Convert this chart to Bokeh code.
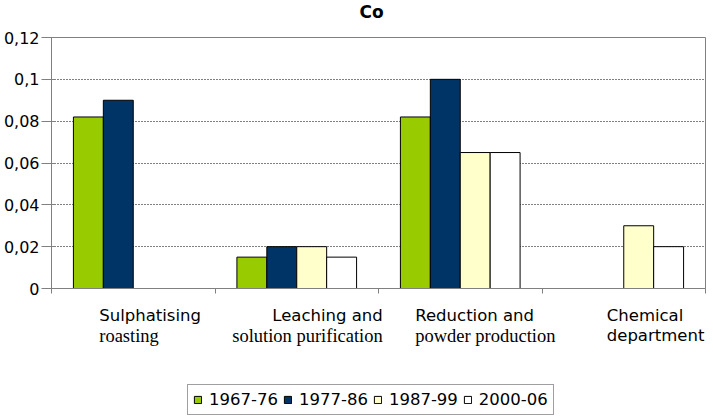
from bokeh.plotting import figure
from bokeh.layouts import column
from bokeh.models import Range1d, FixedTicker, ColumnDataSource, Legend, LegendItem
from bokeh.core.properties import value
from bokeh.embed import file_html
from bokeh.resources import INLINE

# ---- data ----
chart_title = "Co"
category_line1 = ["Sulphatising", "Leaching and", "Reduction and", "Chemical"]
category_line2 = ["roasting", "solution purification", "powder production", "department"]
series_names = ["1967-76", "1977-86", "1987-99", "2000-06"]
s_1967_76 = [0.082, 0.015, 0.082, None]
s_1977_86 = [0.090, 0.020, 0.100, None]
s_1987_99 = [None, 0.020, 0.065, 0.030]
s_2000_06 = [None, 0.015, 0.065, 0.020]
y_ticks = [0, 0.02, 0.04, 0.06, 0.08, 0.1, 0.12]
y_tick_labels = ["0", "0,02", "0,04", "0,06", "0,08", "0,1", "0,12"]

# ---- styles ----
colors = ["#99CC00", "#003366", "#FFFFCC", "#FFFFFF"]
SANS = "DejaVu Sans"
SERIF = "Liberation Serif"
# (align1, xoff1, align2, xoff2, font2, size2) offsets in px from category centre
label_layout = [
    ("left", -34, "left", -34, SERIF, "18.5px"),
    ("right", 86, "right", 86, SERIF, "18.5px"),
    ("left", -45, "left", -45, SERIF, "18.5px"),
    ("left", -17, "left", -17, SANS, "16.5px"),
]
bar_w = 0.183
n_cat = len(category_line1)
xr = Range1d(0, n_cat)


def strip(height, ylo=0, yhi=1):
    f = figure(width=713, height=height, output_backend="svg", toolbar_location=None,
               title=None, x_range=xr, y_range=Range1d(ylo, yhi),
               x_axis_location=None, y_axis_location=None,
               min_border_left=49, min_border_right=8, min_border_top=0,
               min_border_bottom=0, background_fill_color="white",
               border_fill_color="white", outline_line_color=None)
    f.grid.visible = False
    return f


# ---- title strip ----
t = strip(29)
t.text(x=[n_cat / 2], y=[1], text=[chart_title], x_offset=-19, y_offset=11,
       text_align="left", text_baseline="alphabetic",
       text_font=value(SANS), text_font_size="17px", text_font_style="bold",
       text_color="black")

# ---- main chart ----
p = figure(width=713, height=275, output_backend="svg", toolbar_location=None,
           title=None, x_range=xr, y_range=Range1d(0, 0.12),
           min_border_left=49, min_border_right=8, min_border_top=8,
           min_border_bottom=16, background_fill_color="white",
           border_fill_color="white")
p.outline_line_color = "#808080"

# y axis
p.yaxis.ticker = FixedTicker(ticks=y_ticks)
p.yaxis.major_label_overrides = {tk: lb for tk, lb in zip(y_ticks, y_tick_labels)}
p.yaxis.minor_tick_line_color = None
p.yaxis.axis_line_color = "#808080"
p.yaxis.major_tick_line_color = "#808080"
p.yaxis.major_tick_out = 10
p.yaxis.major_tick_in = 4
p.yaxis.major_label_standoff = 2
p.yaxis.major_label_text_font = SANS
p.yaxis.major_label_text_font_size = "16px"
p.yaxis.major_label_text_color = "black"

# x axis (category boundary ticks only, labels drawn below)
x_bounds = list(range(n_cat + 1))
p.xaxis.ticker = FixedTicker(ticks=x_bounds)
p.xaxis.major_label_overrides = {b: "" for b in x_bounds}
p.xaxis.major_label_standoff = 0
p.xaxis.minor_tick_line_color = None
p.xaxis.axis_line_color = "#808080"
p.xaxis.major_tick_line_color = "#808080"
p.xaxis.major_tick_out = 5
p.xaxis.major_tick_in = 0

# grid
p.xgrid.visible = False
p.ygrid.ticker = FixedTicker(ticks=y_ticks[1:-1])
p.ygrid.grid_line_color = "black"
p.ygrid.grid_line_dash = "1 2"
p.ygrid.grid_line_width = 1

# bars
series = [s_1967_76, s_1977_86, s_1987_99, s_2000_06]
for j, (name, vals) in enumerate(zip(series_names, series)):
    xs, tops = [], []
    for i, v in enumerate(vals):
        if v is not None:
            xs.append(i + 0.5 + (j - 1.5) * bar_w)
            tops.append(v)
    src = ColumnDataSource(dict(x=xs, top=tops))
    p.vbar(x="x", top="top", bottom=0, width=bar_w, source=src,
           fill_color=colors[j], line_color="black", line_width=1)

# ---- lower strip: category labels + legend ----
q = strip(112)
for i, (t1, t2) in enumerate(zip(category_line1, category_line2)):
    a1, o1, a2, o2, f2, fs2 = label_layout[i]
    q.text(x=[i + 0.5], y=[1], text=[t1], x_offset=o1, y_offset=11,
           text_align=a1, text_baseline="alphabetic",
           text_font=value(SANS), text_font_size="16.5px", text_color="black")
    q.text(x=[i + 0.5], y=[1], text=[t2], x_offset=o2, y_offset=31,
           text_align=a2, text_baseline="alphabetic",
           text_font=value(f2), text_font_size=fs2, text_color="black")

# legend keys (swatches only; nothing is drawn in the frame)
items = []
for j, name in enumerate(series_names):
    r = q.vbar(x=[float("nan")], top=[float("nan")], bottom=0, width=bar_w,
               fill_color=colors[j], line_color="black", line_width=1)
    items.append(LegendItem(label=name, renderers=[r]))

legend = Legend(items=items, orientation="horizontal", location=(136, 1),
                glyph_width=9, glyph_height=9, label_standoff=7, spacing=5,
                padding=5, margin=0, label_text_font=SANS,
                label_text_font_size="16.5px", label_text_color="black",
                label_height=19,
                border_line_color="#404040", border_line_width=1,
                background_fill_color="white", background_fill_alpha=1)
q.add_layout(legend, "center")

layout = column(t, p, q, spacing=0)
open("out.html", "w").write(file_html(layout, INLINE))
